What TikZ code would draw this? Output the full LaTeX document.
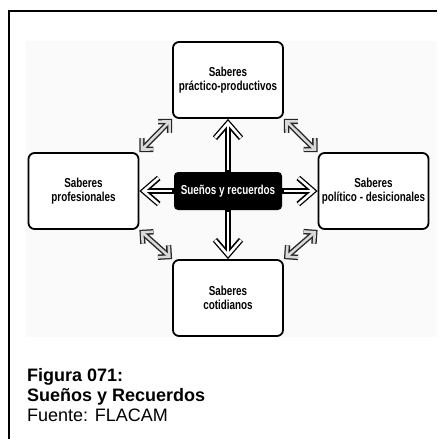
\documentclass[tikz,border=0pt]{standalone}
\usepackage{fontspec}
\setmainfont{Liberation Sans}
\newfontfamily\narrowfont[FakeStretch=0.76]{Liberation Sans}
\usetikzlibrary{arrows.meta}

\begin{document}
\begin{tikzpicture}[x=1pt, y=-1pt, node distance={145pt},
		main/.style = {draw, line width=1.8pt, rounded corners=6pt, fill=white, inner sep=2pt, minimum width=110pt, minimum height=76pt, align=center, font=\fontsize{13}{13.5}\selectfont\narrowfont\bfseries},
		dream/.style = {fill=black, text=white, rounded corners=4pt, minimum width=108pt, minimum height=38pt, font=\fontsize{13}{13.5}\selectfont\narrowfont\bfseries},
		big/.style = {line width=2.6pt, white, shorten >=2pt, shorten <=2pt, -{Straight Barb[length=15pt,width=26pt]}, preaction={draw=black, line width=5.6pt, shorten >=0pt, shorten <=0pt}},
		small/.style = {line width=2.6pt, gray!30, shorten >=1.8pt, shorten <=1.8pt, {Straight Barb[length=8pt,width=16pt]}-{Straight Barb[length=8pt,width=16pt]}, preaction={draw=black!85, line width=5.4pt, shorten >=0pt, shorten <=0pt}},
		legend/.style = {anchor=base west, inner sep=0pt, font=\fontsize{18}{20}\selectfont}]
		\useasboundingbox (0,0) rectangle (437,439);
		\fill[black!2] (26,41) rectangle (437,337);
		\draw[line width=2pt] (437,11) -- (9,11) -- (9,439);
		\node[dream] (1) at (228,191) {Sueños y recuerdos};
		\node[main] (2) [above of=1, node distance=111pt] {Saberes\\práctico-productivos};
		\node[main] (3) [right of=1, node distance=145.5pt] {Saberes\\político - desicionales};
		\node[main] (4) [below of=1, node distance=107pt] {Saberes\\cotidianos};
		\node[main] (5) [left of=1, node distance=144.5pt] {Saberes\\profesionales};
		\foreach \n in {2,...,5}
			\draw[big] (1) -- (\n);
		\draw[small] (5.north east) -- (2.south west);
		\draw[small] (2.south east) -- (3.north west);
		\draw[small] (3.south west) -- (4.north east);
		\draw[small] (4.north west) -- (5.south east);
		\node[legend] (6) at (27,381.7) {\bfseries Figura 071:};
		\node[legend] (7) at (27,401.7) {\bfseries Sueños y Recuerdos};
		\node[legend] (8) at (27,421.7) {Fuente: FLACAM};
	\end{tikzpicture}
\end{document}
